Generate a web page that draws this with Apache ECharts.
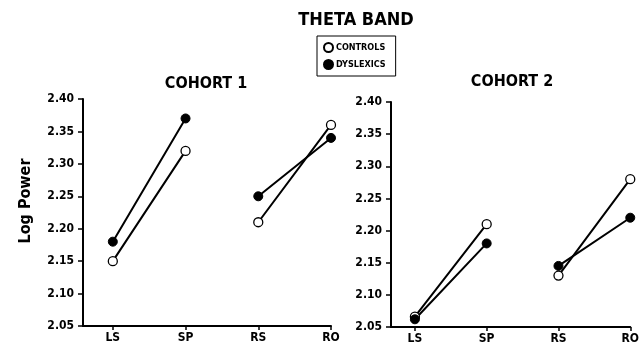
<!DOCTYPE html>
<html>
<head>
<meta charset="utf-8">
<script src="https://cdn.jsdelivr.net/npm/echarts@6/dist/echarts.min.js"></script>
<style>html,body{margin:0;padding:0;background:#fff}#c{width:642px;height:351px}</style>
</head>
<body>
<div id="c"></div>
<script>
const categories = ['LS', 'SP', 'RS', 'RO'];
const cohort1Controls = [2.15, 2.32, 2.21, 2.36];
const cohort1Dyslexics = [2.18, 2.37, 2.25, 2.34];
const cohort2Controls = [2.066, 2.21, 2.13, 2.28];
const cohort2Dyslexics = [2.062, 2.18, 2.145, 2.22];
const yMin = 2.05, yMax = 2.40, yStep = 0.05;

const FONT = "'Liberation Sans Narrow', 'DejaVu Sans Condensed', 'Roboto Condensed', sans-serif";

function pairs(vals) {
  return [[0, vals[0]], [1, vals[1]], [1.5, '-'], [2, vals[2]], [3, vals[3]]];
}

function xAxis(idx, min) {
  return {
    type: 'value', gridIndex: idx, min: min, max: 3,
    splitLine: {show: false},
    axisLine: {show: true, onZero: false, lineStyle: {color: '#000', width: 2}},
    axisTick: {show: true, customValues: [0, 1, 2, 3], length: 4, lineStyle: {color: '#000', width: 1.5}},
    axisLabel: {customValues: [0, 1, 2, 3], formatter: v => categories[Math.round(v)] || '',
      color: '#000', fontFamily: FONT, fontWeight: 'bold', fontSize: 12, margin: 6}
  };
}
function yAxis(idx) {
  return {
    type: 'value', gridIndex: idx, min: yMin, max: yMax, interval: yStep,
    splitLine: {show: false},
    axisLine: {show: true, onZero: false, lineStyle: {color: '#000', width: 2}},
    axisTick: {show: true, length: 5, lineStyle: {color: '#000', width: 1.5}},
    axisLabel: {formatter: v => v.toFixed(2), color: '#000', fontFamily: FONT, fontWeight: 'bold', fontSize: 12, margin: 9}
  };
}
function ser(name, vals, idx, open) {
  return {
    type: 'line', name: name, xAxisIndex: idx, yAxisIndex: idx,
    data: pairs(vals), symbol: 'circle', symbolSize: 9, showAllSymbol: true,
    connectNulls: false, animation: false,
    lineStyle: {color: '#000', width: 2},
    itemStyle: open ? {color: '#fff', borderColor: '#000', borderWidth: 1.3}
                    : {color: '#000', borderColor: '#000', borderWidth: 1}
  };
}

const chart = echarts.init(document.getElementById('c'), null, {renderer: 'canvas'});
chart.setOption({
  animation: false,
  backgroundColor: '#fff',
  title: [
    {text: 'THETA BAND', left: 351, top: 6, textAlign: 'center',
     textStyle: {fontFamily: FONT, fontWeight: 'bold', fontSize: 18, color: '#000'}},
    {text: 'COHORT 1', left: 201, top: 71, textAlign: 'center',
     textStyle: {fontFamily: FONT, fontWeight: 'bold', fontSize: 16, color: '#000'}},
    {text: 'COHORT 2', left: 507, top: 69, textAlign: 'center',
     textStyle: {fontFamily: FONT, fontWeight: 'bold', fontSize: 16, color: '#000'}}
  ],
  graphic: [
    {type: 'text', x: 26, y: 201, rotation: Math.PI / 2,
     style: {text: 'Log Power', align: 'center', verticalAlign: 'middle', fill: '#000',
       font: "bold 16px 'Liberation Sans Narrow', 'DejaVu Sans Condensed', sans-serif"}}
  ],
  legend: {
    orient: 'vertical', left: 317, top: 36, data: ['CONTROLS', 'DYSLEXICS'],
    icon: 'circle', itemWidth: 9, itemHeight: 9, itemGap: 6,
    padding: [6, 10, 6, 6], borderColor: '#000', borderWidth: 1,
    textStyle: {fontFamily: FONT, fontWeight: 'bold', fontSize: 9, color: '#000', padding: [0, 0, 0, -2]}
  },
  grid: [
    {left: 83, right: 311, top: 99, bottom: 25},
    {left: 391, right: 10, top: 102, bottom: 24}
  ],
  xAxis: [xAxis(0, -0.41), xAxis(1, -0.333)],
  yAxis: [yAxis(0), yAxis(1)],
  series: [
    ser('CONTROLS', cohort1Controls, 0, true),
    ser('DYSLEXICS', cohort1Dyslexics, 0, false),
    ser('CONTROLS', cohort2Controls, 1, true),
    ser('DYSLEXICS', cohort2Dyslexics, 1, false)
  ]
});
</script>
</body>
</html>
